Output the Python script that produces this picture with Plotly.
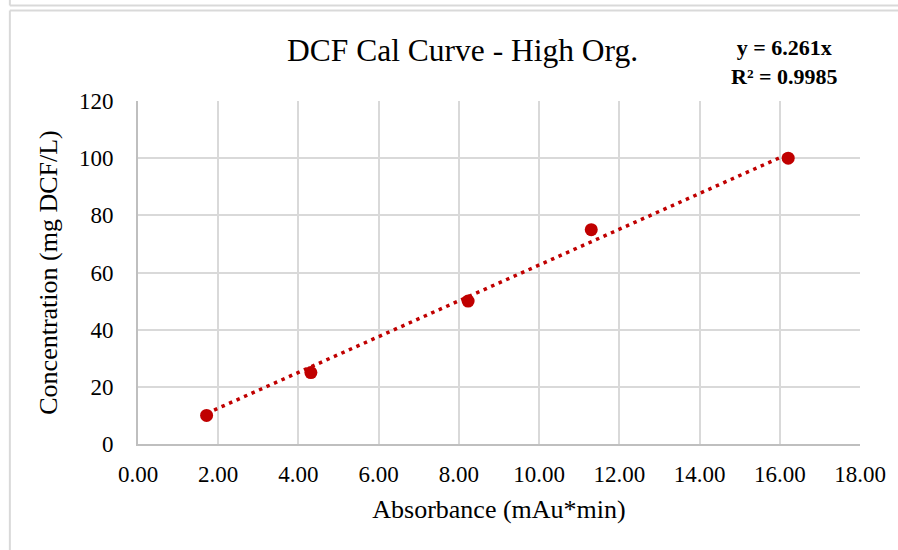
import plotly.graph_objects as go

# Calibration data
absorbance = [1.71, 4.31, 8.23, 11.30, 16.21]      # mAu*min
concentration = [10, 25, 50, 75, 100]              # mg DCF/L

# Linear fit through origin, as reported on the chart
slope = 6.261
r_squared = 0.9985

x_ticks = [0, 2, 4, 6, 8, 10, 12, 14, 16, 18]
y_ticks = [0, 20, 40, 60, 80, 100, 120]

W, H = 898, 550
ML, MR, MT, MB = 138, 36, 101, 106
PW, PH = W - ML - MR, H - MT - MB


def px(x):
    return (x - ML) / PW


def py(y):
    return (H - MB - y) / PH


RED = "#C00000"
GRID = "#d9d9d9"
FONT = "Liberation Serif, Times New Roman, serif"

fit_x = [min(absorbance), max(absorbance)]
fit_y = [slope * v for v in fit_x]

fig = go.Figure()
fig.add_trace(go.Scatter(
    x=fit_x, y=fit_y, mode="lines",
    line=dict(color=RED, width=3.5, dash="3.5px,4.7px"),
    hoverinfo="skip", showlegend=False,
))
fig.add_trace(go.Scatter(
    x=absorbance, y=concentration, mode="markers",
    marker=dict(color=RED, size=13, line=dict(width=0)),
    showlegend=False,
))

# Outer chart frame lines
frame = dict(color="#d9d9d9", width=2)
shapes = [
    dict(type="line", xref="paper", yref="paper", x0=px(9.5), x1=px(W + 5), y0=py(5.5), y1=py(5.5), line=frame),
    dict(type="line", xref="paper", yref="paper", x0=px(9.5), x1=px(W + 5), y0=py(10.5), y1=py(10.5), line=frame),
    dict(type="line", xref="paper", yref="paper", x0=px(9.5), x1=px(9.5), y0=py(-5), y1=py(5.5), line=frame),
    dict(type="line", xref="paper", yref="paper", x0=px(9.5), x1=px(9.5), y0=py(10.5), y1=py(H + 5), line=frame),
]

annotations = [
    dict(text="DCF Cal Curve - High Org.", xref="paper", yref="paper",
         x=px(463), y=py(50), xanchor="center", yanchor="middle",
         showarrow=False, font=dict(family=FONT, size=31.5, color="#000")),
    dict(text=f"<b>y = {slope}x<br>R² = {r_squared}</b>", xref="paper", yref="paper",
         x=px(786), y=py(62), xanchor="center", yanchor="middle",
         showarrow=False, align="center", font=dict(family=FONT, size=22, color="#000")),
]

fig.update_layout(
    width=W, height=H,
    margin=dict(l=ML, r=MR, t=MT, b=MB),
    paper_bgcolor="white", plot_bgcolor="white",
    shapes=shapes, annotations=annotations,
    xaxis=dict(
        range=[0, 18], tickvals=x_ticks, tickformat=".2f",
        showgrid=True, gridcolor=GRID, gridwidth=1.5, zeroline=False,
        showline=True, linecolor="#bfbfbf", linewidth=2,
        ticks="", ticklabelstandoff=8,
        tickfont=dict(family=FONT, size=23, color="#000"),
        title=dict(text="Absorbance (mAu*min)", standoff=14,
                   font=dict(family=FONT, size=26, color="#000")),
    ),
    yaxis=dict(
        range=[0, 120], tickvals=y_ticks,
        showgrid=True, gridcolor=GRID, gridwidth=1.5, zeroline=False,
        showline=True, linecolor="#bfbfbf", linewidth=2,
        ticks="", ticklabelstandoff=18,
        tickfont=dict(family=FONT, size=23, color="#000"),
        title=dict(text="Concentration (mg DCF/L)", standoff=14,
                   font=dict(family=FONT, size=26, color="#000")),
    ),
)

fig.write_html("out.html")
